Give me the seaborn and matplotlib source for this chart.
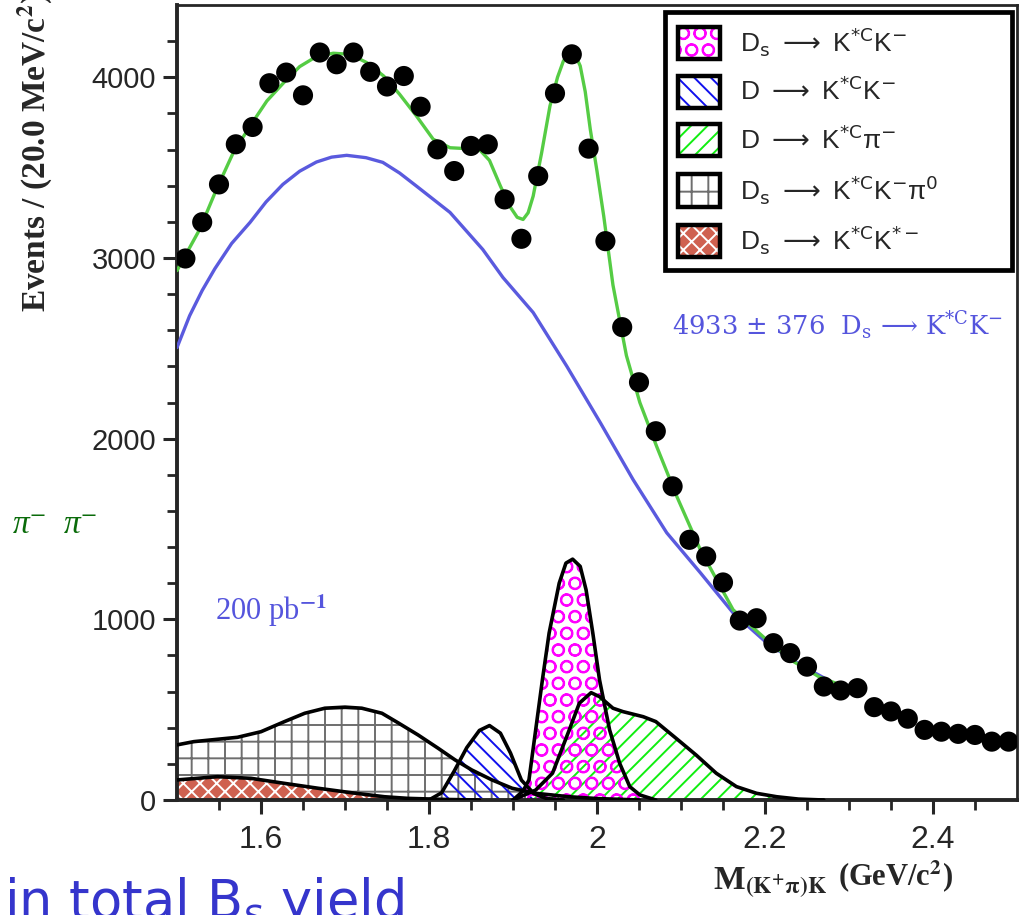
import numpy as np
import matplotlib
matplotlib.use("Agg")
import matplotlib.pyplot as plt
import seaborn as sns
from matplotlib.patches import Patch
from matplotlib.font_manager import FontProperties

# measured data points (20 MeV bins)
mass = [1.51, 1.53, 1.55, 1.57, 1.59, 1.61, 1.63, 1.65, 1.67, 1.69,
        1.71, 1.73, 1.75, 1.77, 1.79, 1.81, 1.83, 1.85, 1.87, 1.89,
        1.91, 1.93, 1.95, 1.97, 1.99, 2.01, 2.03, 2.05, 2.07, 2.09,
        2.11, 2.13, 2.15, 2.17, 2.19, 2.21, 2.23, 2.25, 2.27, 2.29,
        2.31, 2.33, 2.35, 2.37, 2.39, 2.41, 2.43, 2.45, 2.47, 2.49]
events = [2997, 3198, 3407, 3629, 3725, 3967, 4026, 3900, 4137, 4072,
          4137, 4030, 3949, 4007, 3837, 3601, 3481, 3620, 3629, 3324,
          3106, 3453, 3911, 4127, 3605, 3093, 2617, 2312, 2041, 1736,
          1440, 1348, 1204, 993, 1006, 868, 813, 738, 628, 606,
          619, 514, 490, 450, 388, 378, 366, 360, 323, 323]

# total fit (green)
fit_x = [1.500, 1.527, 1.547, 1.567, 1.587, 1.607, 1.627, 1.646, 1.666, 1.686,
         1.706, 1.726, 1.746, 1.765, 1.785, 1.805, 1.825, 1.845, 1.860, 1.872,
         1.885, 1.896, 1.905, 1.912, 1.918, 1.924, 1.934, 1.944, 1.953, 1.960,
         1.966, 1.970, 1.975, 1.980, 1.986, 1.992, 2.000, 2.008, 2.019, 2.035,
         2.051, 2.071, 2.095, 2.123, 2.162, 2.202, 2.234, 2.265, 2.295]
fit_y = [2930, 3158, 3380, 3583, 3730, 3869, 3970, 4059, 4115, 4133,
         4127, 4081, 4007, 3906, 3786, 3657, 3610, 3605, 3600, 3540,
         3398, 3287, 3225, 3213, 3250, 3342, 3580, 3841, 4000, 4090,
         4130, 4137, 4115, 4063, 3920, 3712, 3480, 3232, 2850, 2460,
         2200, 1957, 1680, 1385, 1053, 886, 766, 680, 628]

# background (blue)
bkg_x = [1.500, 1.515, 1.530, 1.545, 1.565, 1.587, 1.606, 1.626, 1.646, 1.666,
         1.684, 1.702, 1.725, 1.745, 1.765, 1.785, 1.825, 1.864, 1.888, 1.924,
         1.964, 2.004, 2.043, 2.083, 2.123, 2.162, 2.202, 2.242, 2.281, 2.295]
bkg_y = [2504, 2680, 2820, 2940, 3080, 3197, 3310, 3407, 3480, 3531,
         3558, 3568, 3555, 3529, 3470, 3398, 3252, 3047, 2892, 2698,
         2401, 2088, 1773, 1479, 1258, 1036, 870, 748, 648, 628]

# signal / peaking components
ds_kk_x = [1.900, 1.912, 1.919, 1.927, 1.935, 1.943, 1.955, 1.963, 1.971, 1.980,
           1.987, 1.995, 2.003, 2.015, 2.027, 2.039, 2.051, 2.070]
ds_kk_y = [0, 50, 111, 388, 665, 924, 1200, 1311, 1333, 1293,
           1163, 924, 665, 388, 203, 74, 28, 0]

d_kk_x = [1.800, 1.815, 1.830, 1.845, 1.860, 1.872, 1.885, 1.897, 1.910, 1.925, 1.940, 1.960]
d_kk_y = [0, 40, 160, 290, 385, 412, 370, 260, 110, 35, 8, 0]

d_kpi_x = [1.900, 1.927, 1.947, 1.967, 1.979, 1.993, 2.003, 2.019, 2.031, 2.055,
           2.070, 2.094, 2.118, 2.142, 2.166, 2.190, 2.214, 2.240, 2.270]
d_kpi_y = [0, 55, 148, 388, 536, 594, 572, 508, 489, 461,
           434, 342, 249, 148, 74, 37, 18, 5, 0]

ds_kkpi0_x = [1.500, 1.520, 1.548, 1.572, 1.600, 1.628, 1.652, 1.676, 1.700, 1.720,
              1.744, 1.764, 1.787, 1.811, 1.831, 1.851, 1.875, 1.899, 1.927, 1.967,
              2.000, 2.050]
ds_kkpi0_y = [305, 323, 336, 347, 378, 434, 480, 508, 514, 508,
              480, 425, 360, 286, 222, 166, 111, 65, 37, 18,
              8, 0]

ds_kkst_x = [1.500, 1.548, 1.588, 1.628, 1.668, 1.708, 1.747, 1.775, 1.820, 1.860]
ds_kkst_y = [111, 129, 120, 92, 65, 40, 18, 9, 3, 0]

legend_labels = [r"D$_\mathrm{s}$ $\longrightarrow$ K$^{*\mathrm{C}}$K$^{-}$",
                 r"D $\longrightarrow$ K$^{*\mathrm{C}}$K$^{-}$",
                 r"D $\longrightarrow$ K$^{*\mathrm{C}}$π$^{-}$",
                 r"D$_\mathrm{s}$ $\longrightarrow$ K$^{*\mathrm{C}}$K$^{-}$π$^{0}$",
                 r"D$_\mathrm{s}$ $\longrightarrow$ K$^{*\mathrm{C}}$K$^{*-}$"]

sns.set_style("ticks")
plt.rcParams["font.family"] = ["Liberation Sans", "DejaVu Sans"]
plt.rcParams["hatch.linewidth"] = 1.4

fig = plt.figure(figsize=(10.19, 9.15), dpi=100)
ax = fig.add_axes([177 / 1019, 115 / 915, 840 / 1019, 795 / 915])

# components: (x, y, face, hatch colour, hatch)
components = [
    (ds_kkpi0_x, ds_kkpi0_y, "none", "#6e6e6e", "+"),
    (ds_kkst_x, ds_kkst_y, "#cf6150", "white", "xx"),
    (d_kk_x, d_kk_y, "none", "#1010ee", "\\\\"),
    (d_kpi_x, d_kpi_y, "none", "#10ee10", "//"),
    (ds_kk_x, ds_kk_y, "none", "#ff00ff", "O"),
]
for cx, cy, fc, hc, h in components:
    ax.fill_between(cx, 0, cy, facecolor=fc, edgecolor=hc, hatch=h, lw=0, zorder=2)
for cx, cy, fc, hc, h in components:
    ax.plot(cx, cy, color="black", lw=2.6, zorder=3, solid_joinstyle="round")

sns.lineplot(x=bkg_x, y=bkg_y, color="#5a5ade", lw=2.4, estimator=None,
             sort=False, ax=ax, zorder=4)
sns.lineplot(x=fit_x, y=fit_y, color="#55cc44", lw=2.4, estimator=None,
             sort=False, ax=ax, zorder=5)
sns.scatterplot(x=mass, y=events, color="black", s=210, edgecolor="none",
                ax=ax, zorder=6)

ax.set_xlim(1.5, 2.5)
ax.set_ylim(0, 4400)
ax.set_xticks([1.6, 1.8, 2.0, 2.2, 2.4])
ax.set_xticklabels(["1.6", "1.8", "2", "2.2", "2.4"])
ax.set_xticks(np.arange(1.55, 2.5, 0.05), minor=True)
ax.set_yticks([0, 1000, 2000, 3000, 4000])
ax.set_yticks(np.arange(0, 4400, 200), minor=True)
ax.tick_params(which="major", direction="out", length=10, width=2.2,
               labelsize=21, pad=5)
ax.tick_params(which="minor", direction="out", length=7, width=2.0)
ax.tick_params(axis="x", which="major", labelsize=23, pad=8)
for side in ["left", "bottom"]:
    ax.spines[side].set_linewidth(2.8)
for side in ["top", "right"]:
    ax.spines[side].set_linewidth(2.0)
ax.set_xlabel("")
ax.set_ylabel("")

# legend
handles = [(Patch(facecolor=fc, edgecolor=hc, hatch=h, lw=0),
            Patch(facecolor="none", edgecolor="black", lw=3.2))
           for _, _, fc, hc, h in [components[4], components[2], components[3],
                                   components[0], components[1]]]
leg_font = FontProperties(family=["Liberation Sans", "DejaVu Sans"], size=19,
                          math_fontfamily="dejavusans")
leg = ax.legend(handles, legend_labels, loc="upper left",
                bbox_to_anchor=(0.581, 0.625, 0.413, 0.366), mode="expand",
                borderaxespad=0, prop=leg_font,
                fancybox=False, framealpha=1, edgecolor="black",
                handlelength=1.6, handleheight=1.5, handletextpad=0.75,
                labelspacing=0.62, borderpad=0.5)
leg.get_frame().set_linewidth(3.4)
leg.set_zorder(10)

serif = ["Liberation Serif", "DejaVu Serif"]
ax.text(2.089, 2630, r"4933 ± 376  D$_\mathrm{s}$ ⟶ K$^{*\mathrm{C}}$K$^{-}$",
        color="#5555dd", fontsize=18.5, family=["DejaVu Serif"],
        math_fontfamily="dejavuserif", va="center", ha="left")
ax.text(1.545, 1050, r"200 pb$^{\mathbf{-1}}$", color="#5555dd", fontsize=22,
        family=serif, math_fontfamily="stix", va="center", ha="left")

# labels drawn on the figure
fig.text(35 / 1019, 1 - 312 / 915, r"Events / (20.0 MeV/c$^{\mathbf{2}}$)",
         rotation=90, ha="center", va="bottom", fontsize=24, fontweight="bold",
         family=serif, math_fontfamily="stix")
fig.text(713 / 1019, 1 - 890 / 915, r"M$_{\mathbf{(K^{+}\pi)K}}$", ha="left",
         va="baseline", fontsize=24, fontweight="bold", family=serif,
         math_fontfamily="stix")
fig.text(838 / 1019, 1 - 886 / 915, r"(GeV/c$^{\mathbf{2}}$)", ha="left",
         va="baseline", fontsize=22, fontweight="bold", family=serif,
         math_fontfamily="stix")
fig.text(12 / 1019, 1 - 525 / 915, "π$^{-}$  π$^{-}$", color="#0a6b0a",
         fontsize=24, family=serif, math_fontfamily="stix", va="center",
         ha="left", style="italic")
fig.text(4 / 1019, 1 - 918 / 915, "in total B$_{s}$ yield", color="#3535cc",
         fontsize=38, family=["DejaVu Sans"], va="baseline", ha="left")

fig.savefig("out.png", dpi=100)
